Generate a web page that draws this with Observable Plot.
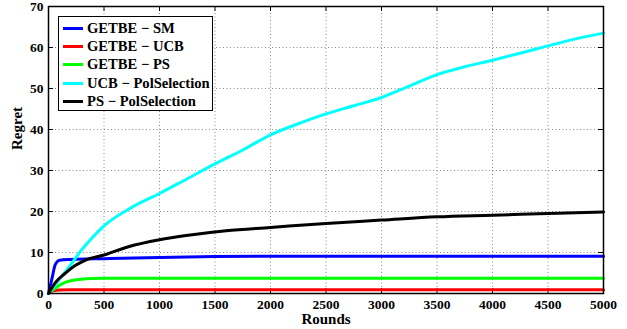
<!DOCTYPE html>
<html><head><meta charset="utf-8">
<script src="https://cdn.jsdelivr.net/npm/d3@7"></script>
<script src="https://cdn.jsdelivr.net/npm/@observablehq/plot@0.6"></script>
<style>
body{margin:0;background:#fff;}
#wrap{position:relative;width:627px;height:329px;font-family:"Liberation Serif","Times New Roman",serif;font-weight:bold;}
#legend{position:absolute;left:58px;top:16px;width:155px;height:95px;background:#fff;border:1px solid #000;box-sizing:border-box;padding-top:2px;}
.li{display:flex;align-items:center;height:18.4px;font-size:14.6px;font-weight:bold;white-space:nowrap;}
.sw{width:20px;height:3px;margin-left:4px;margin-right:4px;flex:none;}
</style></head>
<body><div id="wrap"><div id="legend"></div></div>
<script>
const seriesNames = ["GETBE − SM","GETBE − UCB","GETBE − PS","UCB − PolSelection","PS − PolSelection"];
const seriesColors = ["#0000ff","#ff0000","#00ff00","#00ffff","#000000"];

const smRounds = [0,30,60,80,100,200,500,1000,1500,2000,5000];
const smRegret = [0,3.5,7.0,7.8,8.1,8.3,8.5,8.8,9.0,9.1,9.1];

const ucbRounds = [0,25,50,100,200,500,5000];
const ucbRegret = [0,0.5,0.7,0.85,0.9,0.9,0.9];

const psRounds = [0,50,100,150,200,250,300,400,500,1000,5000];
const psRegret = [0,1.1,2.0,2.7,3.1,3.35,3.5,3.65,3.72,3.75,3.75];

const ucbPolRounds = [0,100,200,300,400,500,750,1000,1250,1500,1750,2000,2250,2500,2750,3000,3250,3500,3750,4000,4250,4500,4750,5000];
const ucbPolRegret = [0,3.5,7,10.7,13.8,16.5,21.0,24.4,28.0,31.6,35.0,38.7,41.4,43.8,45.8,47.8,50.6,53.4,55.3,56.9,58.6,60.4,62.1,63.5];

const psPolRounds = [0,60,150,240,330,500,720,1000,1260,1600,2000,2500,3000,3500,4000,4500,5000];
const psPolRegret = [0,2.6,4.9,6.8,8.1,9.4,11.4,13.1,14.2,15.3,16.1,17.1,17.9,18.7,19.1,19.5,19.9];

const xTicks = [0,500,1000,1500,2000,2500,3000,3500,4000,4500,5000];
const yTicks = [0,10,20,30,40,50,60,70];

const allRounds = [smRounds,ucbRounds,psRounds,ucbPolRounds,psPolRounds];
const allRegret = [smRegret,ucbRegret,psRegret,ucbPolRegret,psPolRegret];
const data = [];
allRounds.forEach((r,i)=>r.forEach((x,j)=>data.push({series:seriesNames[i], round:x, regret:allRegret[i][j]})));

const tickLenX = 1.2; // in regret units
const tickLenY = 45;  // in round units

const chart = Plot.plot({
  width: 627, height: 329,
  marginLeft: 48, marginRight: 24, marginTop: 6, marginBottom: 36,
  style: {fontFamily: '"Liberation Serif","Times New Roman",serif', fontWeight: "bold", fontSize: "13.5px", background: "#fff"},
  x: {domain: [0,5000]},
  y: {domain: [0,70]},
  color: {domain: seriesNames, range: seriesColors},
  marks: [
    Plot.gridX(xTicks, {stroke: "#888", strokeOpacity: 1, strokeDasharray: "1,2.5"}),
    Plot.gridY(yTicks, {stroke: "#888", strokeOpacity: 1, strokeDasharray: "1,2.5"}),
    Plot.ruleX(xTicks, {x: d=>d, y1: 0, y2: tickLenX, stroke: "#000"}),
    Plot.ruleX(xTicks, {x: d=>d, y1: 70-tickLenX, y2: 70, stroke: "#000"}),
    Plot.ruleY(yTicks, {y: d=>d, x1: 0, x2: tickLenY, stroke: "#000"}),
    Plot.ruleY(yTicks, {y: d=>d, x1: 5000-tickLenY, x2: 5000, stroke: "#000"}),
    Plot.line(data, {x: "round", y: "regret", z: "series", stroke: "series", strokeWidth: 3, curve: "monotone-x"}),
    Plot.frame({stroke: "#000", strokeWidth: 1.5}),
    Plot.axisX(xTicks, {tickSize: 0, tickPadding: 6, tickFormat: "d", label: null, fontSize: 13.5, fontWeight: "bold", fill: "#000"}),
    Plot.axisY(yTicks, {tickSize: 0, tickPadding: 5, tickFormat: "d", label: null, fontSize: 13.5, fontWeight: "bold", fill: "#000"}),
    Plot.text(["Rounds"], {frameAnchor: "bottom", dy: 26, lineAnchor: "middle", fontSize: 15, fontWeight: "bold", fill: "#000"}),
    Plot.text(["Regret"], {frameAnchor: "left", dx: -31, rotate: -90, fontSize: 15, fontWeight: "bold", fill: "#000"})
  ]
});
chart.style.position = "absolute";
chart.style.left = "0"; chart.style.top = "0";
const wrap = document.getElementById("wrap");
wrap.insertBefore(chart, wrap.firstChild);

const leg = document.getElementById("legend");
seriesNames.forEach((n,i)=>{
  const d = document.createElement("div"); d.className = "li";
  const s = document.createElement("span"); s.className = "sw"; s.style.background = seriesColors[i];
  const t = document.createElement("span"); t.textContent = n;
  d.appendChild(s); d.appendChild(t); leg.appendChild(d);
});
</script></body></html>
